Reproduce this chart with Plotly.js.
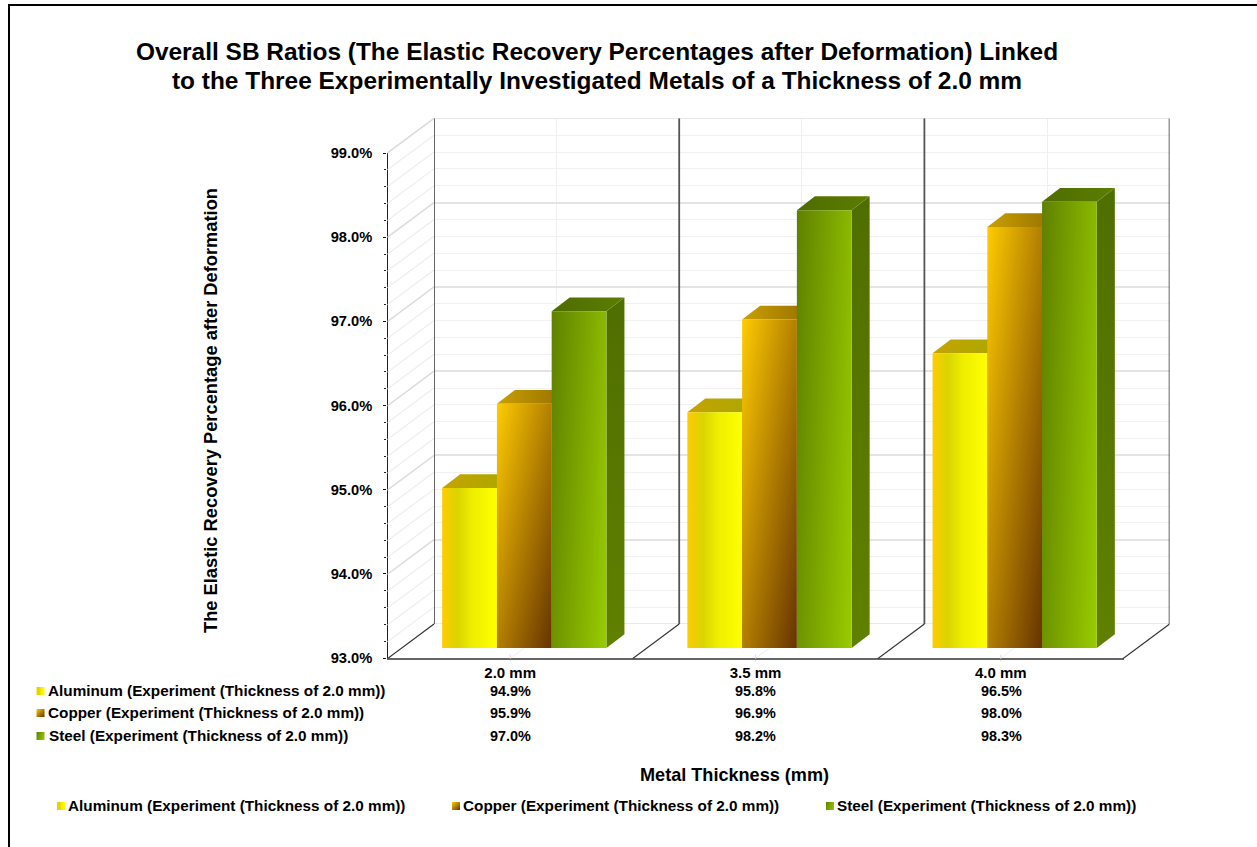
<!DOCTYPE html>
<html>
<head>
<meta charset="utf-8">
<script src="https://cdn.plot.ly/plotly-3.0.1.min.js"></script>
<style>html,body{margin:0;padding:0;background:#fff}#chart{width:1257px;height:847px}</style>
</head>
<body>
<div id="chart"></div>
<script>
// Recovery percentages per metal and sheet thickness
const categories = ['2.0 mm', '3.5 mm', '4.0 mm'];
const aluminum = [94.9, 95.8, 96.5];
const copper = [95.9, 96.9, 98.0];
const steel = [97.0, 98.2, 98.3];
const seriesNames = [
  'Aluminum (Experiment (Thickness of 2.0 mm))',
  'Copper (Experiment (Thickness of 2.0 mm))',
  'Steel (Experiment (Thickness of 2.0 mm))'
];
const seriesValues = [aluminum, copper, steel];
const chartTitle = 'Overall SB Ratios (The Elastic Recovery Percentages after Deformation) Linked<br>to the Three Experimentally Investigated Metals of a Thickness of 2.0 mm';
const yTitle = 'The Elastic Recovery Percentage after Deformation';
const xTitle = 'Metal Thickness (mm)';
const yMin = 93, yMax = 99;

// Page geometry, in pixels of the 1257x847 canvas
const W = 1257, H = 847;
const FONT = '"Liberation Sans", Arial, sans-serif';
const xDom = (a, b) => [a / W, b / W];
const yDom = (top, bottom) => [1 - bottom / H, 1 - top / H];
const px = v => v / W;
const py = v => 1 - v / H;

const catW = 245.2, unitH = 84.2;
const gapRatio = 0.33;
const barW = (1 - gapRatio) / 3;
// Oblique projection offsets, in axis units
const wallDx = 46.7 / catW, wallDy = 34.7 / unitH;
const barDx = 18 / catW, barDy = 13.8 / unitH;

const faceColors = [
  {top: ['#c4a400', '#aaa800'], side: ['#b8a000', '#b8a000']},
  {top: ['#c9a000', '#946c00'], side: ['#8a5a00', '#8a5a00']},
  {top: ['#4e6c00', '#5c7e00'], side: ['#4f6e00', '#608000']}
];
const baseColors = ['#e8e000', '#b07800', '#7ba400'];

const traces = [];

// Front plane: small marks under each thickness label
traces.push({x: categories, y: categories.map(() => yMin), xaxis: 'x', yaxis: 'y', mode: 'markers', cliponaxis: false,
  marker: {symbol: 'line-ns', size: 5, line: {color: '#dddddd', width: 1}}, hoverinfo: 'skip', showlegend: false});

// Slanted lines of the left wall, minor then major divisions
const slantMinor = {x: [], y: []}, slantMajor = {x: [], y: []};
for (let k = 1; k <= 30; k++) {
  const v = yMin + k * 0.2;
  const t = k % 5 === 0 ? slantMajor : slantMinor;
  t.x.push(-0.5, -0.5 - wallDx, null);
  t.y.push(v, v - wallDy, null);
}
traces.push({x: slantMinor.x, y: slantMinor.y, xaxis: 'x2', yaxis: 'y2', mode: 'lines',
  line: {color: '#eeeeee', width: 1.2}, hoverinfo: 'skip', showlegend: false});
traces.push({x: slantMajor.x, y: slantMajor.y, xaxis: 'x2', yaxis: 'y2', mode: 'lines',
  line: {color: '#dcdcdc', width: 1.5}, hoverinfo: 'skip', showlegend: false});

// Floor lines running from the front edge to the back wall
const floorCentre = {x: [], y: []}, floorEdge = {x: [], y: []};
categories.forEach((c, i) => {
  floorCentre.x.push(i, i - wallDx, null);
  floorCentre.y.push(yMin, yMin - wallDy, null);
});
for (let i = 0; i <= categories.length; i++) {
  floorEdge.x.push(i - 0.5, i - 0.5 - wallDx, null);
  floorEdge.y.push(yMin, yMin - wallDy, null);
}
traces.push({x: floorCentre.x, y: floorCentre.y, xaxis: 'x2', yaxis: 'y2', mode: 'lines',
  line: {color: '#eeeeee', width: 1}, hoverinfo: 'skip', showlegend: false});
traces.push({x: floorEdge.x, y: floorEdge.y, xaxis: 'x2', yaxis: 'y2', mode: 'lines',
  line: {color: '#333333', width: 1.2}, hoverinfo: 'skip', showlegend: false});

// Top and bottom edges of the back wall
traces.push({x: [-0.5, 2.5, null, -0.5, 2.5], y: [yMin, yMin, null, yMax, yMax], xaxis: 'x3', yaxis: 'y3', mode: 'lines', cliponaxis: false,
  line: {color: '#e2e2e2', width: 1.6}, hoverinfo: 'skip', showlegend: false});

// Dark verticals on the back wall between the thickness groups
const wallPosts = {x: [], y: []};
for (let i = 0; i <= categories.length; i++) {
  wallPosts.x.push(i - 0.5, i - 0.5, null);
  wallPosts.y.push(yMin, yMax, null);
}
traces.push({x: wallPosts.x, y: wallPosts.y, xaxis: 'x3', yaxis: 'y3', mode: 'lines', cliponaxis: false,
  line: {color: '#555555', width: 1.8}, hoverinfo: 'skip', showlegend: false});

// Top and side faces of each column, drawn behind the front faces
seriesValues.forEach((vals, s) => {
  vals.forEach((v, i) => {
    const l = i + (s - 1.5) * barW, r = l + barW;
    traces.push({
      x: [r, r + barDx, r + barDx, r, r], y: [yMin, yMin + barDy, v + barDy, v, yMin],
      xaxis: 'x4', yaxis: 'y4', mode: 'lines', fill: 'toself', line: {width: 0},
      fillgradient: {type: 'vertical', colorscale: [[0, faceColors[s].side[1]], [1, faceColors[s].side[0]]]},
      hoverinfo: 'skip', showlegend: false
    });
    traces.push({
      x: [l, r, r + barDx, l + barDx, l], y: [v, v, v + barDy, v + barDy, v],
      xaxis: 'x4', yaxis: 'y4', mode: 'lines', fill: 'toself', line: {width: 0},
      fillgradient: {type: 'horizontal', colorscale: [[0, faceColors[s].top[0]], [1, faceColors[s].top[1]]]},
      hoverinfo: 'skip', showlegend: false
    });
  });
});

// Front faces
seriesValues.forEach((vals, s) => {
  traces.push({type: 'bar', name: seriesNames[s], x: categories, y: vals, xaxis: 'x5', yaxis: 'y5',
    marker: {color: baseColors[s], line: {width: 0}}, hovertemplate: '%{x}: %{y:.1f}%<extra>' + seriesNames[s] + '</extra>',
    showlegend: false});
});

const annotations = [];
const note = (text, x, y, anchor, size, extra) => annotations.push(Object.assign({
  text, x: px(x), y: py(y), xref: 'paper', yref: 'paper', xanchor: anchor, yanchor: 'middle',
  showarrow: false, font: {family: FONT, size, color: '#000'}
}, extra || {}));

note('<b>' + yTitle + '</b>', 210, 411, 'center', 18.3, {textangle: -90});
note('<b>' + xTitle + '</b>', 734, 775, 'center', 18.1);

// Data table under the axis
const tableRows = [691, 713, 736];
const tableLabelX = [45.5, 45.5, 46.5];
const tableCols = [510, 755, 1001];
const shapes = [];
const swatch = (x, y, color) => shapes.push({type: 'rect', xref: 'paper', yref: 'paper',
  x0: px(x), x1: px(x + 8), y0: py(y - 4), y1: py(y + 4), fillcolor: color, line: {width: 0}});
seriesValues.forEach((vals, s) => {
  note('<b>' + seriesNames[s] + '</b>', tableLabelX[s], tableRows[s] - 1, 'left', 15.3);
  swatch(36.5, tableRows[s], baseColors[s]);
  vals.forEach((v, i) => note('<b>' + v.toFixed(1) + '%</b>', tableCols[i], tableRows[s], 'center', 14.4));
});

// Legend row at the bottom
const legendSwatchX = [57, 452, 826];
seriesValues.forEach((vals, s) => {
  note('<b>' + seriesNames[s] + '</b>', legendSwatchX[s] + 9, 805, 'left', 15.3);
  swatch(legendSwatchX[s], 806, baseColors[s]);
});

// Frame along the top and left of the figure
shapes.push({type: 'line', xref: 'paper', yref: 'paper', x0: px(9), x1: 1, y0: py(5), y1: py(5), line: {color: '#000', width: 2}});
shapes.push({type: 'line', xref: 'paper', yref: 'paper', x0: px(9), x1: px(9), y0: py(4), y1: 0, line: {color: '#000', width: 2}});

const hiddenAxis = {visible: false, fixedrange: true};
const layout = {
  width: W, height: H, autosize: false,
  margin: {l: 0, r: 0, t: 0, b: 0},
  paper_bgcolor: '#fff', plot_bgcolor: 'rgba(0,0,0,0)',
  showlegend: false, barmode: 'group', bargap: gapRatio, bargroupgap: 0,
  title: {text: '<b>' + chartTitle + '</b>', x: 597 / W, xanchor: 'center', y: py(60), yanchor: 'middle',
    font: {family: FONT, size: 24.45, color: '#000'}},
  font: {family: FONT, color: '#000'},
  // Front plane: carries the tick labels and the axis lines
  xaxis: {domain: xDom(387.5, 1123.5), type: 'category', categoryarray: categories, categoryorder: 'array', range: [-0.5, 2.5],
    anchor: 'y', showline: true, linecolor: '#666', linewidth: 1.8, showgrid: false, ticks: '', fixedrange: true,
    tickfont: {family: FONT, size: 15, color: '#000'}, tickprefix: '<b>', ticksuffix: '</b>'},
  yaxis: {domain: yDom(153, 658), range: [yMin, yMax], anchor: 'x', dtick: 1, tick0: yMin, showline: true, linecolor: '#222', linewidth: 1.4,
    showgrid: false, zeroline: false, ticks: 'outside', ticklen: 3, tickcolor: '#111', tickwidth: 1.4,
    minor: {dtick: 0.2, ticks: 'outside', ticklen: 2, tickcolor: '#222', tickwidth: 1, showgrid: false},
    tickformat: '.1f', tickprefix: '<b>', ticksuffix: '%</b>', ticklabelstandoff: 8, fixedrange: true,
    tickfont: {family: FONT, size: 14.7, color: '#000'}},
  // Full projected box: left wall and floor lines
  xaxis2: Object.assign({domain: xDom(387.3, 1169.6), type: 'linear', range: [-0.5 - wallDx, 2.5], anchor: 'y2'}, hiddenAxis),
  yaxis2: Object.assign({domain: yDom(118.3, 658.7), range: [yMin - wallDy, yMax], anchor: 'x2'}, hiddenAxis),
  // Back wall
  xaxis3: {domain: xDom(434, 1169.6), type: 'linear', range: [-0.5, 2.5], anchor: 'y3', dtick: 1, tick0: 0, showgrid: true,
    gridcolor: '#efefef', gridwidth: 1.4, zeroline: false, showticklabels: false, ticks: '', fixedrange: true},
  yaxis3: {domain: yDom(118.3, 624), range: [yMin, yMax], anchor: 'x3', dtick: 1, tick0: yMin, showgrid: true, gridcolor: '#e4e4e4', gridwidth: 1.5,
    zeroline: false, showticklabels: false, ticks: '', fixedrange: true,
    minor: {dtick: 0.2, showgrid: true, gridcolor: '#f1f1f1', gridwidth: 1.4, ticks: ''}},
  // Column faces: depth faces, then the front bars over them
  xaxis4: Object.assign({domain: xDom(401.7, 1137.3), type: 'linear', range: [-0.5, 2.5], anchor: 'y4'}, hiddenAxis),
  yaxis4: Object.assign({domain: yDom(142.8, 648), range: [yMin, yMax], anchor: 'x4'}, hiddenAxis),
  xaxis5: Object.assign({domain: xDom(401.7, 1137.3), type: 'category', categoryarray: categories, categoryorder: 'array', range: [-0.5, 2.5], anchor: 'y5'}, hiddenAxis),
  yaxis5: Object.assign({domain: yDom(142.8, 648), range: [yMin, yMax], anchor: 'x5'}, hiddenAxis),
  annotations, shapes
};

// Gradient definition per series: slope across the face and colour stops
const SVGNS = 'http://www.w3.org/2000/svg';
const ramps = [
  {a: 1, b: 0, stops: [[0, '#ffcc00'], [0.28, '#dad400'], [0.55, '#eeee00'], [1, '#ffff00']]},
  {a: 1, b: 1, stops: [[0, '#ffcc00'], [1, '#663300']]},
  {a: 1.2, b: 0.4, stops: [[0, '#5f8000'], [1, '#99cc00']]}
];
let gradientId = 0;
function addGradient(svg, ramp, box) {
  const defs = svg.querySelector('defs');
  const g = document.createElementNS(SVGNS, 'linearGradient');
  const id = 'faceRamp' + (gradientId++);
  g.setAttribute('id', id);
  g.setAttribute('x1', 0); g.setAttribute('y1', 0);
  g.setAttribute('x2', ramp.a); g.setAttribute('y2', ramp.b);
  if (box) {
    g.setAttribute('gradientUnits', 'userSpaceOnUse');
    g.setAttribute('gradientTransform', 'translate(' + box.x + ',' + box.y + ') scale(' + box.w + ',' + box.h + ')');
  }
  ramp.stops.forEach(st => {
    const e = document.createElementNS(SVGNS, 'stop');
    e.setAttribute('offset', st[0]);
    e.setAttribute('stop-color', st[1]);
    g.appendChild(e);
  });
  defs.appendChild(g);
  return 'url(#' + id + ')';
}
function finishDrawing(gd) {
  const svg = gd.querySelector('.main-svg');
  const bottom = gd._fullLayout.yaxis5.d2p(yMin);
  gd.querySelectorAll('.barlayer .trace.bars').forEach((tr, s) => {
    tr.querySelectorAll('.point path').forEach(p => {
      const bb = p.getBBox();
      p.style.fill = addGradient(svg, ramps[s], {x: bb.x, y: bb.y, w: bb.width, h: bottom - bb.y});
    });
  });
  // The six key swatches repeat the series ramps
  const marks = gd.querySelectorAll('.layer-above .shapelayer path');
  for (let k = 0; k < 6; k++) {
    marks[k].style.fill = addGradient(svg, ramps[k % 3]);
  }
  // Tighter leading between the two title lines
  const lines = gd.querySelectorAll('.gtitle .line');
  if (lines.length > 1) lines[1].setAttribute('dy', '28.5px');
}

const gd = document.getElementById('chart');
Plotly.newPlot(gd, traces, layout, {displayModeBar: false, responsive: false}).then(() => finishDrawing(gd));
</script>
</body>
</html>
